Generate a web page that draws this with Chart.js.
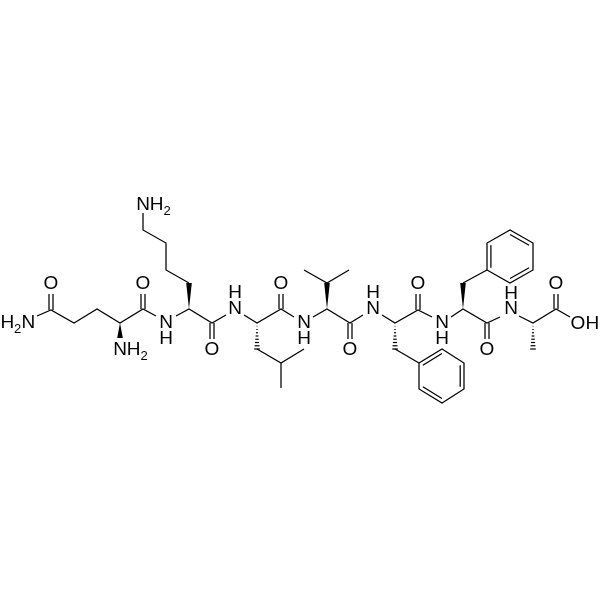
<!DOCTYPE html>
<html>
<head>
<meta charset="utf-8">
<style>
  html, body { margin: 0; padding: 0; background: #fff; }
  #chart { display: block; }
</style>
<script src="https://cdn.jsdelivr.net/npm/chart.js@4/dist/chart.umd.min.js"></script>
</head>
<body>
<canvas id="chart" width="600" height="600"></canvas>
<script>
// Skeleton bonds, null starts a new stroke
const bondX = [37,51,74,97,120,143,156,null,176,189,212,226,null,244,257,281,294,null,313,327,350,363,null,382,395,418,432,null,451,463,487,500,null,519,533,556,570,null,
  189,166,166,143,143,null,257,281,304,null,281,281,null,304,327,349,null,395,419,null,463,487];
const bondY = [316,310,323,309,323,309,316,null,316,309,323,315,null,315,323,309,317,null,317,309,323,315,null,315,323,310,317,null,317,309,323,317,null,316,323,309,317,null,
  283,270,243,230,213,null,349,363,349,null,363,388,null,270,283,270,null,349,363,null,283,270];

// C=O double bonds
const carbonylX = [51,143,212,281,350,418,487,556];
const carbonylFromY = [310,309,323,309,323,310,323,309];
const carbonylToY = [294,294,339,294,339,294,339,294];

// Stereo bonds
const wedgeX = [120,189,327,463];
const wedgeFromY = [323,309,309,309];
const wedgeToY = [338,283,283,283];
const hashX = [257,395,533];
const hashFromY = [323,323,323];
const hashToY = [349,349,349];

// Phenyl rings
const ringOneX = [419,442,464,464,442,419];
const ringOneY = [363,349,363,389,403,389];
const ringTwoX = [487,510,533,533,510,487];
const ringTwoY = [270,283,270,243,230,243];
const ringOneDouble = [0,2,4];
const ringTwoDouble = [1,3,5];

// Atom labels: x is the centre of the first letter of labelText
const labelText = ["O","O","O","O","O","O","O","O","N","N","N","N","N","N","H","H","H","H","H","H"];
const labelX = [51,143,212,281,350,418,487,556,166,235,304,373,442,511,166,235,304,373,442,511];
const labelY = [284,284,350,284,350,284,350,284,323,309,323,309,323,309,339,293,339,293,339,294];
const groupText = [["NH","2"],["NH","2"],["OH",""]];
const groupX = [143,120,578];
const groupY = [205,350,324];

const ink = "#000";
const fontName = '"Liberation Sans", Arial, sans-serif';
const labelSize = 19;
const subSize = 13;

function toPoints(xs, ys) {
  return xs.map((x, i) => (x === null ? { x: NaN, y: NaN } : { x: x, y: ys[i] }));
}

function lineSet(points) {
  return {
    data: points,
    showLine: true,
    spanGaps: false,
    borderColor: ink,
    borderWidth: 1.25,
    pointRadius: 0,
    tension: 0,
    fill: false,
    clip: false
  };
}

// Two parallel strokes for every carbonyl
function carbonylPoints() {
  const pts = [];
  carbonylX.forEach((x, i) => {
    pts.push({ x: x - 2, y: carbonylFromY[i] }, { x: x - 2, y: carbonylToY[i] }, { x: NaN, y: NaN });
    pts.push({ x: x + 2, y: carbonylFromY[i] }, { x: x + 2, y: carbonylToY[i] }, { x: NaN, y: NaN });
  });
  return pts;
}

function ringPoints(xs, ys) {
  const pts = toPoints(xs, ys);
  pts.push({ x: xs[0], y: ys[0] });
  return pts;
}

// Inner strokes of the ring, pulled towards its centre
function ringInner(xs, ys, edges) {
  const cx = xs.reduce((a, b) => a + b) / xs.length;
  const cy = ys.reduce((a, b) => a + b) / ys.length;
  const pts = [];
  edges.forEach(i => {
    const j = (i + 1) % xs.length;
    const t = 0.83;
    const ax = xs[i] + (cx - xs[i]) * (1 - t), ay = ys[i] + (cy - ys[i]) * (1 - t);
    const bx = xs[j] + (cx - xs[j]) * (1 - t), by = ys[j] + (cy - ys[j]) * (1 - t);
    pts.push({ x: ax, y: ay }, { x: bx, y: by }, { x: NaN, y: NaN });
  });
  return pts;
}

const moleculePlugin = {
  id: "molecule",
  afterDatasetsDraw(chart) {
    const ctx = chart.ctx;
    const sx = chart.scales.x, sy = chart.scales.y;
    ctx.save();
    ctx.fillStyle = ink;
    ctx.strokeStyle = ink;

    wedgeX.forEach((x, i) => {
      const px = sx.getPixelForValue(x);
      ctx.beginPath();
      ctx.moveTo(px, sy.getPixelForValue(wedgeFromY[i]));
      ctx.lineTo(px - 2.8, sy.getPixelForValue(wedgeToY[i]));
      ctx.lineTo(px + 2.8, sy.getPixelForValue(wedgeToY[i]));
      ctx.closePath();
      ctx.fill();
    });

    hashX.forEach((x, i) => {
      const px = sx.getPixelForValue(x);
      const y0 = sy.getPixelForValue(hashFromY[i]);
      const y1 = sy.getPixelForValue(hashToY[i]);
      ctx.lineWidth = 1.2;
      for (let k = 1; k <= 8; k++) {
        const t = k / 8;
        const y = y0 + (y1 - y0) * t;
        ctx.beginPath();
        ctx.moveTo(px - 2.8 * t, y);
        ctx.lineTo(px + 2.8 * t, y);
        ctx.stroke();
      }
    });

    ctx.textBaseline = "middle";
    ctx.font = labelSize + "px " + fontName;
    ctx.textAlign = "center";
    labelText.forEach((t, i) => {
      ctx.fillText(t, sx.getPixelForValue(labelX[i]), sy.getPixelForValue(labelY[i]));
    });

    // NH2 / OH, the first letter sits over the atom position
    groupText.forEach((g, i) => {
      ctx.font = labelSize + "px " + fontName;
      ctx.textAlign = "left";
      const first = ctx.measureText(g[0][0]).width;
      const px = sx.getPixelForValue(groupX[i]) - first / 2;
      const py = sy.getPixelForValue(groupY[i]);
      ctx.fillText(g[0], px, py);
      const w = ctx.measureText(g[0]).width;
      ctx.font = subSize + "px " + fontName;
      ctx.fillText(g[1], px + w, py + 6);
    });

    // H2N on the far left
    ctx.font = labelSize + "px " + fontName;
    ctx.textAlign = "left";
    const py = sy.getPixelForValue(323);
    ctx.fillText("H", sx.getPixelForValue(0.5), py);
    ctx.fillText("N", sx.getPixelForValue(21.5), py);
    ctx.font = subSize + "px " + fontName;
    ctx.fillText("2", sx.getPixelForValue(14), py + 6);
    ctx.restore();
  }
};

new Chart(document.getElementById("chart"), {
  type: "scatter",
  data: {
    datasets: [
      lineSet(toPoints(bondX, bondY)),
      lineSet(carbonylPoints()),
      lineSet(ringPoints(ringOneX, ringOneY)),
      lineSet(ringPoints(ringTwoX, ringTwoY)),
      lineSet(ringInner(ringOneX, ringOneY, ringOneDouble)),
      lineSet(ringInner(ringTwoX, ringTwoY, ringTwoDouble))
    ]
  },
  options: {
    responsive: false,
    animation: false,
    devicePixelRatio: 1,
    layout: { padding: 0 },
    plugins: { legend: { display: false }, tooltip: { enabled: false } },
    scales: {
      x: { type: "linear", display: false, min: 0, max: 600 },
      y: { type: "linear", display: false, min: 0, max: 600, reverse: true }
    }
  },
  plugins: [moleculePlugin]
});
</script>
</body>
</html>
